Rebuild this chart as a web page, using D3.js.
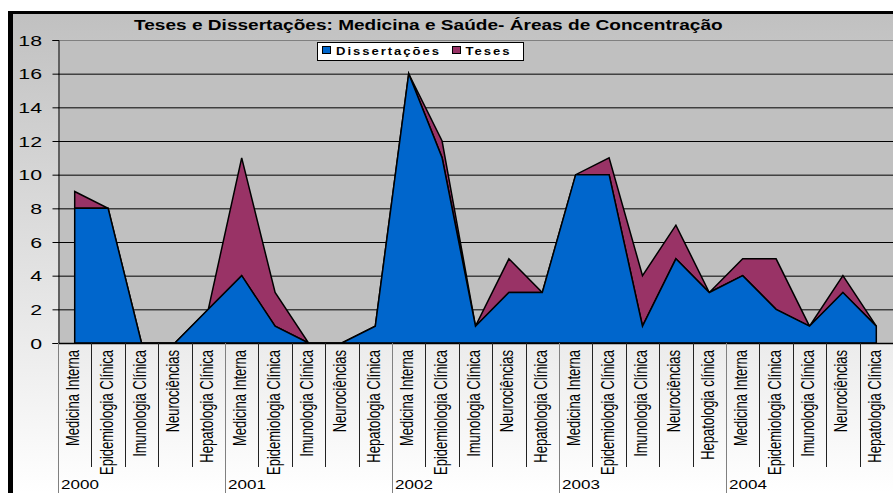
<!DOCTYPE html>
<html lang="pt">
  <head>
    <meta charset="UTF-8" />
    <script src="https://d3js.org/d3.v7.min.js"></script>
    <title>Teses e Dissertações</title>
    <style>
      body { margin: 0; background: #fff; }
      text { font-family: "Liberation Sans", Arial, sans-serif; }
    </style>
  </head>
  <body>
    <script>
      // data
      const years = ["2000", "2001", "2002", "2003", "2004"];
      const areas = [
        "Medicina Interna", "Epidemiologia Clínica", "Imunologia Clínica",
        "Neurociências", "Hepatologia Clínica"
      ];
      const categories = [
        "Medicina Interna", "Epidemiologia Clínica", "Imunologia Clínica", "Neurociências", "Hepatologia Clínica",
        "Medicina Interna", "Epidemiologia Clínica", "Imunologia Clínica", "Neurociências", "Hepatologia Clínica",
        "Medicina Interna", "Epidemiologia Clínica", "Imunologia Clínica", "Neurociências", "Hepatologia Clínica",
        "Medicina Interna", "Epidemiologia Clínica", "Imunologia Clínica", "Neurociências", "Hepatologia clínica",
        "Medicina Interna", "Epidemiologia Clínica", "Imunologia Clínica", "Neurociências", "Hepatologia Clínica"
      ];
      const dissertacoes = [8, 8, 0, 0, 2, 4, 1, 0, 0, 1, 16, 11, 1, 3, 3, 10, 10, 1, 5, 3, 4, 2, 1, 3, 1];
      const teses        = [1, 0, 0, 0, 0, 7, 2, 0, 0, 0, 0, 1, 0, 2, 0, 0, 1, 3, 2, 0, 1, 3, 0, 1, 0];
      const yTicks = [0, 2, 4, 6, 8, 10, 12, 14, 16, 18];
      const seriesNames = ["Dissertações", "Teses"];
      const colors = ["#0066cc", "#993366"];

      const W = 893, H = 493;
      const plot = { left: 58, right: 893, top: 40, bottom: 343 };
      const SX = 1.42; // the original picture is stretched sideways

      const svg = d3.select("body").append("svg")
        .attr("width", W).attr("height", H);

      const grad = svg.append("defs").append("linearGradient")
        .attr("id", "bg").attr("x1", 0).attr("y1", 0).attr("x2", 0).attr("y2", 1);
      grad.append("stop").attr("offset", "0%").attr("stop-color", "#c0c0c0");
      grad.append("stop").attr("offset", "100%").attr("stop-color", "#ffffff");

      // chart background + thick frame
      svg.append("rect").attr("x", 8).attr("y", 11).attr("width", W - 8).attr("height", H - 11)
        .attr("fill", "url(#bg)");
      svg.append("rect").attr("x", 8).attr("y", 11).attr("width", W - 8).attr("height", 3).attr("fill", "#000");
      svg.append("rect").attr("x", 8).attr("y", 11).attr("width", 5).attr("height", H - 11).attr("fill", "#000");

      const x = d3.scaleBand().domain(d3.range(categories.length))
        .range([plot.left, plot.right]).padding(0);
      const y = d3.scaleLinear().domain([0, 18]).range([plot.bottom, plot.top]);
      const cx = i => x(i) + x.bandwidth() / 2;

      // plot area
      svg.append("rect").attr("x", plot.left).attr("y", plot.top)
        .attr("width", plot.right - plot.left).attr("height", plot.bottom - plot.top)
        .attr("fill", "#c0c0c0");

      svg.append("g").selectAll("line").data(yTicks.filter(d => d > 0)).join("line")
        .attr("x1", plot.left).attr("x2", plot.right)
        .attr("y1", d => y(d) + 0.5).attr("y2", d => y(d) + 0.5)
        .attr("stroke", d => d === 18 ? "#808080" : "#000").attr("stroke-width", 1);

      // stacked areas
      const rows = dissertacoes.map((d, i) => ({ i, d, t: teses[i] }));
      const stack = d3.stack().keys(["d", "t"])(rows);
      const area = d3.area()
        .x(p => cx(p.data.i))
        .y0(p => y(p[0]))
        .y1(p => y(p[1]));

      svg.append("g").selectAll("path").data(stack.slice().reverse()).join("path")
        .attr("d", s => area(s) + "Z")
        .attr("fill", s => colors[s.index])
        .attr("stroke", "#000").attr("stroke-width", 1.5)
        .attr("stroke-linejoin", "miter");

      // y axis
      const yAxis = svg.append("g").attr("transform", `translate(${plot.left + 0.5},0)`)
        .call(d3.axisLeft(y).tickValues(yTicks).tickSize(6).tickPadding(0).tickFormat(d3.format("d")));
      yAxis.select(".domain").attr("stroke", "#000");
      yAxis.selectAll(".tick line").attr("stroke", "#000");
      yAxis.selectAll(".tick text").remove();
      svg.append("g").selectAll("text").data(yTicks).join("text")
        .attr("transform", d => `translate(42,${y(d) + 5.5}) scale(${SX},1)`)
        .attr("text-anchor", "end").attr("font-size", 15).attr("fill", "#000")
        .text(d => d);

      // x axis line
      svg.append("line").attr("x1", plot.left).attr("x2", plot.right)
        .attr("y1", plot.bottom + 0.5).attr("y2", plot.bottom + 0.5)
        .attr("stroke", "#000").attr("stroke-width", 1.5);

      // category separators, year separators reach further down
      svg.append("g").selectAll("line").data(d3.range(categories.length)).join("line")
        .attr("x1", i => Math.round(x(i)) + 0.5).attr("x2", i => Math.round(x(i)) + 0.5)
        .attr("y1", plot.bottom)
        .attr("y2", i => i % areas.length === 0 ? H : 467)
        .attr("stroke", i => i % areas.length === 0 ? "#808080" : "#222")
        .attr("stroke-width", 1);

      svg.append("g").selectAll("text").data(categories).join("text")
        .attr("transform", (c, i) => `translate(${cx(i) + 4.5},350) rotate(-90) scale(1,${SX})`)
        .attr("text-anchor", "end").attr("font-size", 13).attr("fill", "#000")
        .text(c => c);

      svg.append("g").selectAll("text").data(years).join("text")
        .attr("transform", (yr, k) => `translate(${x(k * areas.length) + 3},489) scale(${SX},1)`)
        .attr("font-size", 12).attr("fill", "#000")
        .text(yr => yr);

      // title, stretched to the width it has in the picture
      const title = svg.append("text")
        .attr("font-size", 14).attr("font-weight", "bold").attr("fill", "#000")
        .text("Teses e Dissertações: Medicina e Saúde- Áreas de Concentração");
      const tw = title.node().getComputedTextLength();
      title.attr("transform", `translate(134,30) scale(${589 / tw},1)`);

      // legend
      const lg = svg.append("g");
      lg.append("rect").attr("x", 317.5).attr("y", 42.5).attr("width", 206).attr("height", 18)
        .attr("fill", "#fff").attr("stroke", "#000").attr("stroke-width", 1);
      const legendItems = [
        { sq: 322.5, tx: 336, w: 105 },
        { sq: 452.5, tx: 465.5, w: 46 }
      ];
      legendItems.forEach((it, k) => {
        lg.append("rect").attr("x", it.sq).attr("y", 46.5).attr("width", 8).attr("height", 7)
          .attr("fill", colors[k]).attr("stroke", "#000").attr("stroke-width", 1);
        const t = lg.append("text")
          .attr("font-size", 10).attr("font-weight", "bold").attr("letter-spacing", 1.5)
          .attr("fill", "#000").text(seriesNames[k]);
        const len = t.node().getComputedTextLength();
        t.attr("transform", `translate(${it.tx},54.5) scale(${it.w / len},1)`);
      });
    </script>
  </body>
</html>
